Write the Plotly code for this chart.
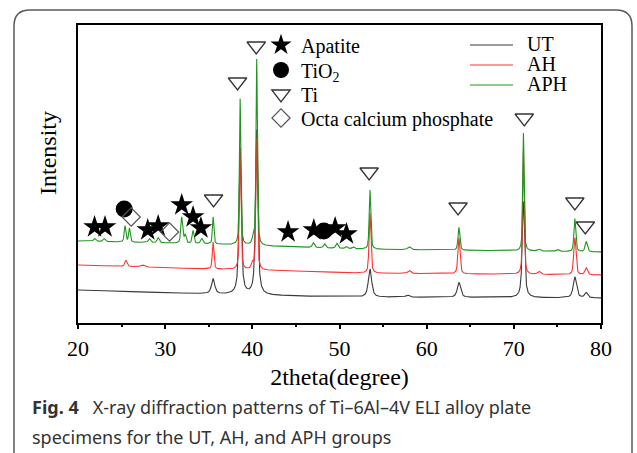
import numpy as np
import plotly.graph_objects as go

# ---------------- data ----------------
# intensity units: arbitrary (offset patterns), 2theta in degrees
x_min, x_max = 20, 80

# baselines (knots)
base_x = [20, 35, 45, 52, 80]
UT_base = [33, 29, 27, 26, 25]
AH_base = [58, 54, 52, 50, 48]
APH_base = [82, 79, 76, 74, 71]

# peaks: position, height above baseline, FWHM
UT_pos = [35.5, 38.6, 40.5, 53.5, 57.8, 63.7, 71.1, 77.0, 78.3]
UT_hgt = [15, 146, 165, 28, 2, 15, 96, 21, 5]
UT_fwhm = [0.45, 0.32, 0.32, 0.45, 0.5, 0.45, 0.32, 0.45, 0.4]

AH_pos = [25.5, 27.4, 35.5, 38.6, 40.0, 40.5, 53.5, 58.0, 63.7, 71.1, 72.9, 77.0, 78.3]
AH_hgt = [6, 2, 27, 120, 6, 132, 60, 3, 36, 124, 3, 37, 7]
AH_fwhm = [0.3, 0.6, 0.22, 0.22, 0.3, 0.22, 0.25, 0.4, 0.28, 0.22, 0.4, 0.3, 0.35]

APH_pos = [21.9, 23.0, 25.4, 25.9, 28.2, 29.2, 31.9, 32.3, 33.2, 34.2, 35.5,
           38.6, 40.1, 40.5, 47.0, 48.3, 49.7, 50.8, 51.6, 53.5, 58.0, 63.7,
           71.1, 72.9, 75.0, 77.0, 78.3]
APH_hgt = [3, 3, 16, 14, 4, 5, 26, 8, 13, 5, 27,
           146, 6, 186, 5, 4, 5, 2, 2, 59, 3, 23,
           118, 2, 2, 33, 10]
APH_fwhm = [0.3, 0.3, 0.22, 0.22, 0.3, 0.3, 0.25, 0.25, 0.25, 0.3, 0.2,
            0.2, 0.3, 0.2, 0.3, 0.3, 0.3, 0.3, 0.3, 0.22, 0.4, 0.25,
            0.2, 0.4, 0.4, 0.25, 0.3]

# phase markers
apatite_x = [21.9, 23.1, 28.0, 29.2, 31.9, 33.2, 34.1, 44.1, 47.05, 49.5, 50.8]
apatite_y = [96, 96, 93, 97, 118, 106, 95, 91, 93, 95, 89]
tio2_x = [25.3, 48.2]
tio2_y = [114, 92]
ti_x = [35.55, 38.3, 40.45, 53.4, 63.6, 71.2, 77.0, 78.2]
ti_y = [124, 241, 277, 151, 116, 205, 121, 97]
ocp_x = [26.1, 30.5]
ocp_y = [106, 91]

series_names = ["UT", "AH", "APH"]
series_colors = ["#3a3a3a", "#ff3030", "#1f951f"]

# ---------------- build profiles ----------------
xs = np.arange(x_min, x_max + 1e-9, 0.02)


def pattern(bx, by, pos, hgt, fwhm, eta):
    y = np.interp(xs, bx, by).astype(float)
    for p, h, w in zip(pos, hgt, fwhm):
        d = (xs - p) / w
        g = np.exp(-4 * np.log(2) * d ** 2)
        lo = 1.0 / (1.0 + 4 * d ** 2)
        y += h * (eta * lo + (1 - eta) * g)
    return y


profiles = [
    pattern(base_x, UT_base, UT_pos, UT_hgt, UT_fwhm, 0.7),
    pattern(base_x, AH_base, AH_pos, AH_hgt, AH_fwhm, 0.5),
    pattern(base_x, APH_base, APH_pos, APH_hgt, APH_fwhm, 0.5),
]

# ---------------- layout geometry ----------------
W, H = 637, 453
L, R, T, B = 78, 601, 25, 323


def px(xp):
    return (xp - L) / (R - L)


def py(yp):
    return (B - yp) / (B - T)


serif = "Liberation Serif, Times New Roman, serif"
sans = "Noto Sans, Open Sans, sans-serif"

fig = go.Figure()

for name, col, yv in zip(series_names, series_colors, profiles):
    fig.add_trace(go.Scatter(x=xs, y=yv, mode="lines", name=name,
                             line=dict(color=col, width=1.1), showlegend=False,
                             hoverinfo="skip"))

fig.add_trace(go.Scatter(x=apatite_x, y=apatite_y, mode="markers", name="Apatite",
                         legend="legend",
                         marker=dict(symbol="star", size=17, color="black",
                                     line=dict(width=0))))
fig.add_trace(go.Scatter(x=tio2_x, y=tio2_y, mode="markers", name="TiO<sub>2</sub>",
                         legend="legend2",
                         marker=dict(symbol="circle", size=17, color="black",
                                     line=dict(width=0))))
fig.add_trace(go.Scatter(x=ti_x, y=ti_y, mode="markers", name="Ti",
                         legend="legend3",
                         marker=dict(symbol="triangle-down-open", size=16,
                                     color="#333333", line=dict(width=1.3))))
fig.add_trace(go.Scatter(x=ocp_x, y=ocp_y, mode="markers", name="Octa calcium phosphate",
                         legend="legend4",
                         marker=dict(symbol="diamond-open", size=14,
                                     color="#555555", line=dict(width=1.2))))

shapes = []
# rounded outer frame
fx0, fy0, fx1, fy1, rr = 14, 10, 632, 480, 16
path = (f"M {px(fx0)},{py(fy1)} L {px(fx0)},{py(fy0 + rr)} "
        f"Q {px(fx0)},{py(fy0)} {px(fx0 + rr)},{py(fy0)} "
        f"L {px(fx1 - rr)},{py(fy0)} "
        f"Q {px(fx1)},{py(fy0)} {px(fx1)},{py(fy0 + rr)} "
        f"L {px(fx1)},{py(fy1)}")
shapes.append(dict(type="path", xref="paper", yref="paper", path=path,
                   line=dict(color="#5a5a5a", width=1.5)))

annotations = []
# line legend (drawn manually)
leg_y = [45, 65, 85]
for name, col, yy in zip(series_names, series_colors, leg_y):
    shapes.append(dict(type="line", xref="paper", yref="paper",
                       x0=px(470), x1=px(513), y0=py(yy), y1=py(yy),
                       line=dict(color=col, width=1.2)))
    annotations.append(dict(xref="paper", yref="paper", x=px(525), y=py(yy - 1),
                            text=name, showarrow=False, xanchor="left",
                            yanchor="middle",
                            font=dict(family=serif, size=20, color="black")))

# caption
annotations.append(dict(xref="paper", yref="paper", x=px(30), y=py(407),
                        text="<b>Fig. 4</b>&nbsp;&nbsp; X-ray diffraction patterns of Ti–6Al–4V ELI alloy plate",
                        showarrow=False, xanchor="left", yanchor="middle",
                        font=dict(family=sans, size=18, color="#333333")))
annotations.append(dict(xref="paper", yref="paper", x=px(30), y=py(437),
                        text="specimens for the UT, AH, and APH groups",
                        showarrow=False, xanchor="left", yanchor="middle",
                        font=dict(family=sans, size=18, color="#333333")))
# y title
annotations.append(dict(xref="paper", yref="paper", x=px(48), y=py(153),
                        text="Intensity", textangle=-90, showarrow=False,
                        xanchor="center", yanchor="middle",
                        font=dict(family=serif, size=24, color="black")))

leg_common = dict(xanchor="left", yanchor="middle", bgcolor="rgba(0,0,0,0)",
                  borderwidth=0, itemsizing="trace",
                  font=dict(family=serif, size=20, color="black"))
sym_rows = [45, 70, 94, 118]

fig.update_layout(
    width=W, height=H,
    margin=dict(l=L, r=W - R, t=T, b=H - B, pad=0),
    paper_bgcolor="white", plot_bgcolor="white",
    shapes=shapes, annotations=annotations,
    showlegend=True,
    legend=dict(x=px(261), y=py(sym_rows[0]), **leg_common),
    legend2=dict(x=px(261), y=py(sym_rows[1]), **leg_common),
    legend3=dict(x=px(261), y=py(sym_rows[2]), **leg_common),
    legend4=dict(x=px(261), y=py(sym_rows[3]), **leg_common),
    xaxis=dict(range=[x_min, x_max], showgrid=False, zeroline=False,
               showline=True, linecolor="black", linewidth=2, mirror=True,
               ticks="outside", ticklen=4, tickwidth=1.5, tickcolor="black",
               dtick=10, tick0=20,
               minor=dict(ticks="outside", ticklen=2, dtick=5, tickcolor="black",
                          tickwidth=1.5),
               ticklabelstandoff=1,
               tickfont=dict(family=serif, size=22, color="black"),
               title=dict(text="2theta(degree)", standoff=8,
                          font=dict(family=serif, size=24, color="black"))),
    yaxis=dict(range=[0, B - T], showgrid=False, zeroline=False,
               showline=True, linecolor="black", linewidth=2, mirror=True,
               ticks="", showticklabels=False),
)

fig.write_html("out.html", config={"displayModeBar": False},
               post_script="document.body.style.margin='0px';")
